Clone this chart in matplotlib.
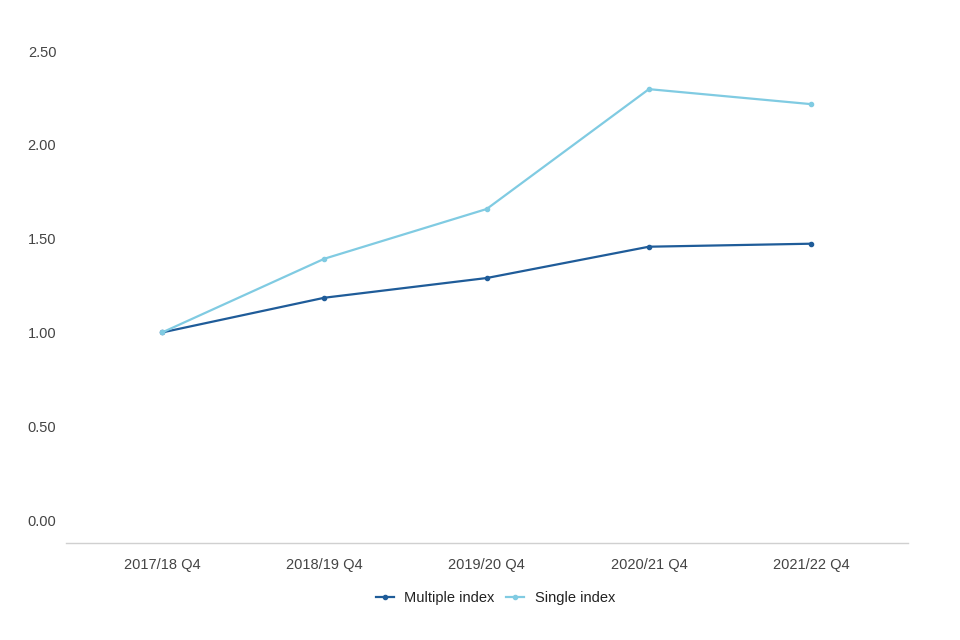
import matplotlib
matplotlib.use("Agg")
import matplotlib.pyplot as plt

categories = ["2017/18 Q4", "2018/19 Q4", "2019/20 Q4", "2020/21 Q4", "2021/22 Q4"]
multiple_index = [1.00, 1.185, 1.29, 1.457, 1.473]
single_index = [1.00, 1.393, 1.658, 2.297, 2.217]
y_ticks = [0.0, 0.5, 1.0, 1.5, 2.0, 2.5]

plt.rcParams['font.family'] = ['Liberation Sans', 'DejaVu Sans']

fig = plt.figure(figsize=(9.6, 6.4), dpi=100)
ax = fig.add_axes([66/960, 1-543/640, (908-66)/960, (543-40)/640])

x = list(range(len(categories)))
ax.plot(x, multiple_index, color="#1f5c99", lw=1.6, marker="o", ms=3, label="Multiple index")
ax.plot(x, single_index, color="#80cbe2", lw=1.6, marker="o", ms=3, label="Single index")

ax.set_xlim(-0.593, 4.597)
ax.set_ylim(-0.1226, 2.559)
ax.set_xticks(x)
ax.set_xticklabels(categories)
ax.set_yticks(y_ticks)
ax.set_yticklabels([f"{v:.2f}" for v in y_ticks])

for s in ["top", "right", "left"]:
    ax.spines[s].set_visible(False)
ax.spines["bottom"].set_color("#d0d0d0")
ax.spines["bottom"].set_linewidth(1)
ax.tick_params(axis="both", length=0, labelsize=10.5, colors="#444444")
ax.tick_params(axis="x", pad=11)
ax.tick_params(axis="y", pad=7)

leg = ax.legend(loc="upper center", bbox_to_anchor=(0.51, -0.07), ncol=2, frameon=False,
                fontsize=10.5, handlelength=1.25, handletextpad=0.7, columnspacing=0.8,
                markerscale=1)
for t in leg.get_texts():
    t.set_color("#222222")

fig.savefig("out.png", dpi=100)
